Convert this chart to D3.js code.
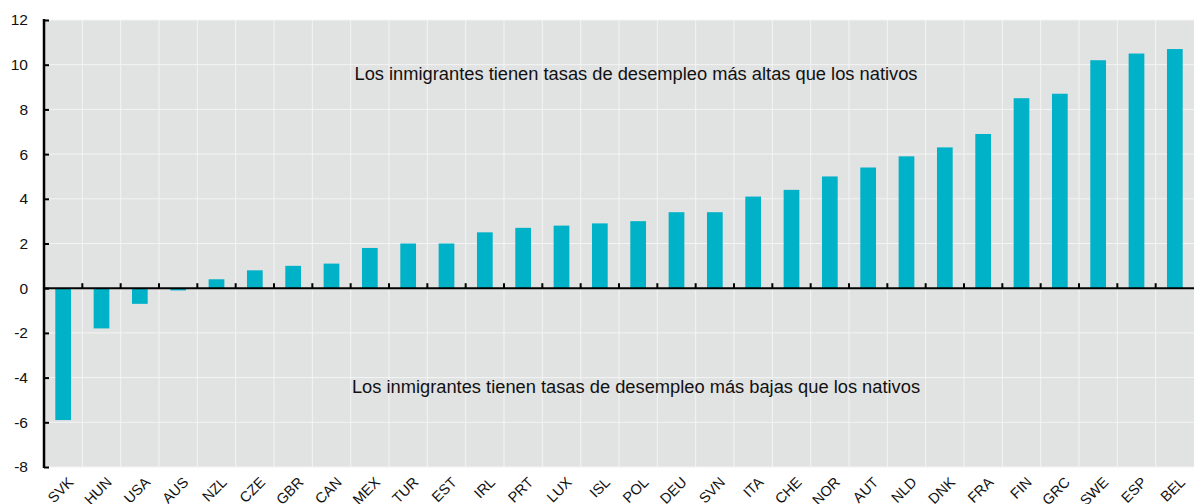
<!DOCTYPE html>
<html>
<head>
<meta charset="utf-8">
<script src="https://cdn.jsdelivr.net/npm/d3@7"></script>
<style>
  body { margin: 0; background: #fff; }
  text { font-family: "Liberation Sans Narrow", "Arial Narrow", "Liberation Sans", sans-serif; fill: #111; }
</style>
</head>
<body>
<svg id="chart" width="1194" height="504"></svg>
<script>
var countries = ["SVK", "HUN", "USA", "AUS", "NZL", "CZE", "GBR", "CAN", "MEX", "TUR",
    "EST", "IRL", "PRT", "LUX", "ISL", "POL", "DEU", "SVN", "ITA", "CHE",
    "NOR", "AUT", "NLD", "DNK", "FRA", "FIN", "GRC", "SWE", "ESP", "BEL"];
var values = [-5.9, -1.8, -0.7, -0.1, 0.4, 0.8, 1.0, 1.1, 1.8, 2.0,
    2.0, 2.5, 2.7, 2.8, 2.9, 3.0, 3.4, 3.4, 4.1, 4.4,
    5.0, 5.4, 5.9, 6.3, 6.9, 8.5, 8.7, 10.2, 10.5, 10.7];
var yTicks = [-8, -6, -4, -2, 0, 2, 4, 6, 8, 10, 12];
var notes = ["Los inmigrantes tienen tasas de desempleo más altas que los nativos",
    "Los inmigrantes tienen tasas de desempleo más bajas que los nativos"];
var noteValues = [9.6, -4.4];

var plotLeft = 44, plotRight = 1194, plotTop = 20, plotBottom = 467;

var svg = d3.select("#chart");

var x = d3.scaleBand()
    .domain(countries)
    .range([plotLeft, plotRight])
    .paddingInner(0)
    .paddingOuter(0);

var y = d3.scaleLinear()
    .domain([-8, 12])
    .range([plotBottom, plotTop]);

// plot background
svg.append("rect")
    .attr("x", plotLeft)
    .attr("y", plotTop)
    .attr("width", plotRight - plotLeft)
    .attr("height", plotBottom - plotTop)
    .style("fill", "#e1e2e2");

// horizontal grid
svg.selectAll(".hgrid")
    .data(yTicks)
    .join("line")
    .attr("class", "hgrid")
    .attr("x1", plotLeft)
    .attr("x2", plotRight)
    .attr("y1", function (d) { return y(d); })
    .attr("y2", function (d) { return y(d); })
    .style("stroke", "#f4f4f4")
    .style("stroke-width", 1);

// vertical grid at band edges
svg.selectAll(".vgrid")
    .data(countries.slice(1))
    .join("line")
    .attr("class", "vgrid")
    .attr("x1", function (d) { return x(d); })
    .attr("x2", function (d) { return x(d); })
    .attr("y1", plotTop)
    .attr("y2", plotBottom)
    .style("stroke", "#f4f4f4")
    .style("stroke-width", 1);

// bars
var barW = x.bandwidth() * 0.41;
svg.selectAll(".bar")
    .data(values)
    .join("rect")
    .attr("class", "bar")
    .attr("x", function (d, i) { return x(countries[i]) + x.bandwidth() / 2 - barW / 2; })
    .attr("y", function (d) { return y(Math.max(0, d)); })
    .attr("width", barW)
    .attr("height", function (d) { return Math.abs(y(d) - y(0)); })
    .style("fill", "#00b2c8");

// zero line with ticks
svg.append("line")
    .attr("x1", plotLeft)
    .attr("x2", plotRight)
    .attr("y1", y(0))
    .attr("y2", y(0))
    .style("stroke", "#000")
    .style("stroke-width", 2);

svg.selectAll(".xtick")
    .data(countries.slice(1))
    .join("line")
    .attr("class", "xtick")
    .attr("x1", function (d) { return x(d); })
    .attr("x2", function (d) { return x(d); })
    .attr("y1", y(0))
    .attr("y2", y(0) - 5)
    .style("stroke", "#000")
    .style("stroke-width", 2);

// y axis
var yAxis = svg.append("g")
    .attr("transform", "translate(" + plotLeft + ",0)")
    .call(d3.axisRight(y).tickValues(yTicks).tickSize(5).tickFormat(""));
yAxis.select(".domain").remove();
yAxis.selectAll("line").style("stroke", "#000").style("stroke-width", 2);

svg.append("line")
    .attr("x1", plotLeft)
    .attr("x2", plotLeft)
    .attr("y1", plotTop - 1)
    .attr("y2", plotBottom + 1)
    .style("stroke", "#000")
    .style("stroke-width", 2.5);

svg.selectAll(".ylabel")
    .data(yTicks)
    .join("text")
    .attr("class", "ylabel")
    .attr("x", 28)
    .attr("y", function (d) { return y(d); })
    .attr("dy", "0.35em")
    .attr("text-anchor", "end")
    .style("font-size", "15.5px")
    .text(function (d) { return d; });

// x labels
svg.selectAll(".xlabel")
    .data(countries)
    .join("text")
    .attr("class", "xlabel")
    .attr("text-anchor", "end")
    .attr("transform", function (d) {
        return "translate(" + (x(d) + x.bandwidth() / 2 + 4) + "," + (plotBottom + 9) + ") rotate(-45)";
    })
    .attr("dy", "0.7em")
    .style("font-size", "14.5px")
    .text(function (d) { return d; });

// annotations
svg.selectAll(".note")
    .data(notes)
    .join("text")
    .attr("class", "note")
    .attr("x", 636)
    .attr("y", function (d, i) { return y(noteValues[i]); })
    .attr("dy", "0.35em")
    .attr("text-anchor", "middle")
    .style("font-size", "18.3px")
    .text(function (d) { return d; });
</script>
</body>
</html>
